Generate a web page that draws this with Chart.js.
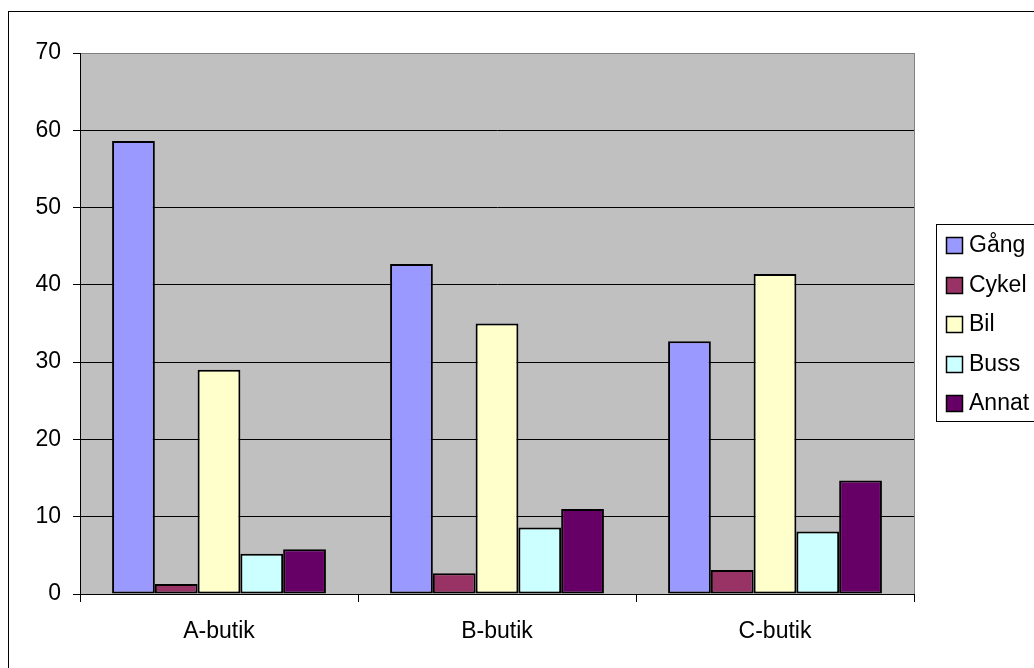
<!DOCTYPE html>
<html>
<head>
<meta charset="utf-8">
<script src="https://cdn.jsdelivr.net/npm/chart.js@4/dist/chart.umd.min.js"></script>
<style>
  html, body { margin: 0; padding: 0; background: #fff; }
  #wrap { width: 1034px; height: 668px; position: relative; }
</style>
</head>
<body>
<div id="wrap"><canvas id="chart"></canvas></div>
<script>
// butiker och färdsätt
const stores = ["A-butik", "B-butik", "C-butik"];
const seriesNames = ["Gång", "Cykel", "Bil", "Buss", "Annat"];
const gang = [58.6, 42.7, 32.7];
const cykel = [1.3, 2.7, 3.1];
const bil = [29.0, 35.0, 41.4];
const buss = [5.2, 8.6, 8.1];
const annat = [5.8, 11.0, 14.7];
const yMin = 0;
const yMax = 70;
const yStep = 10;

const seriesColors = ["#9999FF", "#993366", "#FFFFCC", "#CCFFFF", "#660066"];
const FONT = "'Liberation Sans', Arial, sans-serif";

// grå rityta + ram runt hela diagrammet
const frame = {
  id: "frame",
  beforeDraw(chart) {
    const { ctx, chartArea: a } = chart;
    ctx.save();
    ctx.fillStyle = "#fff";
    ctx.fillRect(0, 0, chart.width, chart.height);
    ctx.strokeStyle = "#000";
    ctx.lineWidth = 1;
    ctx.strokeRect(8.5, 11.5, chart.width + 20, chart.height + 20);
    ctx.fillStyle = "#C0C0C0";
    ctx.fillRect(a.left, a.top, a.right - a.left, a.bottom - a.top);
    ctx.strokeStyle = "#808080";
    ctx.strokeRect(a.left + 0.5, a.top + 0.5, a.right - a.left, a.bottom - a.top);
    ctx.restore();
  }
};

// egen förklaring till höger
const sideLegend = {
  id: "sideLegend",
  afterDraw(chart) {
    const { ctx } = chart;
    const x = 936, y = 224, rowH = 39.5;
    ctx.save();
    ctx.fillStyle = "#fff";
    ctx.fillRect(x, y, 120, 197);
    ctx.strokeStyle = "#000";
    ctx.lineWidth = 1;
    ctx.strokeRect(x + 0.5, y + 0.5, 120, 197);
    ctx.font = "23px " + FONT;
    ctx.textBaseline = "middle";
    chart.data.datasets.forEach((ds, i) => {
      const cy = y + 21 + i * rowH;
      ctx.fillStyle = ds.backgroundColor;
      ctx.fillRect(946.5, Math.round(cy - 8) + 0.5, 16, 16);
      ctx.strokeStyle = "#000";
      ctx.lineWidth = 1.5;
      ctx.strokeRect(946.5, Math.round(cy - 8) + 0.5, 16, 16);
      ctx.fillStyle = "#000";
      ctx.fillText(ds.label, 969, cy + 1);
    });
    ctx.restore();
  }
};

const values = [gang, cykel, bil, buss, annat];

new Chart(document.getElementById("chart"), {
  type: "bar",
  data: {
    labels: stores,
    datasets: seriesNames.map((name, i) => ({
      label: name,
      data: values[i],
      backgroundColor: seriesColors[i],
      borderColor: "#000",
      borderWidth: 2,
      borderSkipped: false,
      categoryPercentage: 5 / 6.5,
      barPercentage: 1
    }))
  },
  options: {
    responsive: true,
    maintainAspectRatio: false,
    devicePixelRatio: 1,
    animation: false,
    layout: { padding: { left: 0, top: 53, right: 120, bottom: 0 } },
    plugins: {
      legend: { display: false },
      tooltip: { enabled: false }
    },
    scales: {
      x: {
        afterFit(scale) { scale.height = 74; },
        grid: {
          offset: true,
          drawOnChartArea: false,
          color: "#000",
          tickColor: "#000",
          tickLength: 8
        },
        border: { color: "#000", width: 1 },
        ticks: {
          color: "#000",
          padding: 16,
          font: { family: FONT, size: 23 }
        }
      },
      y: {
        min: yMin,
        max: yMax,
        afterFit(scale) { scale.width = 80; },
        grid: {
          color: (c) => (c.tick && c.tick.value === yMax ? "#808080" : "#000"),
          tickColor: "#000",
          tickLength: 7
        },
        border: { color: "#000", width: 1 },
        ticks: {
          stepSize: yStep,
          color: "#000",
          padding: 12,
          font: { family: FONT, size: 23 }
        }
      }
    }
  },
  plugins: [frame, sideLegend]
});
</script>
</body>
</html>
